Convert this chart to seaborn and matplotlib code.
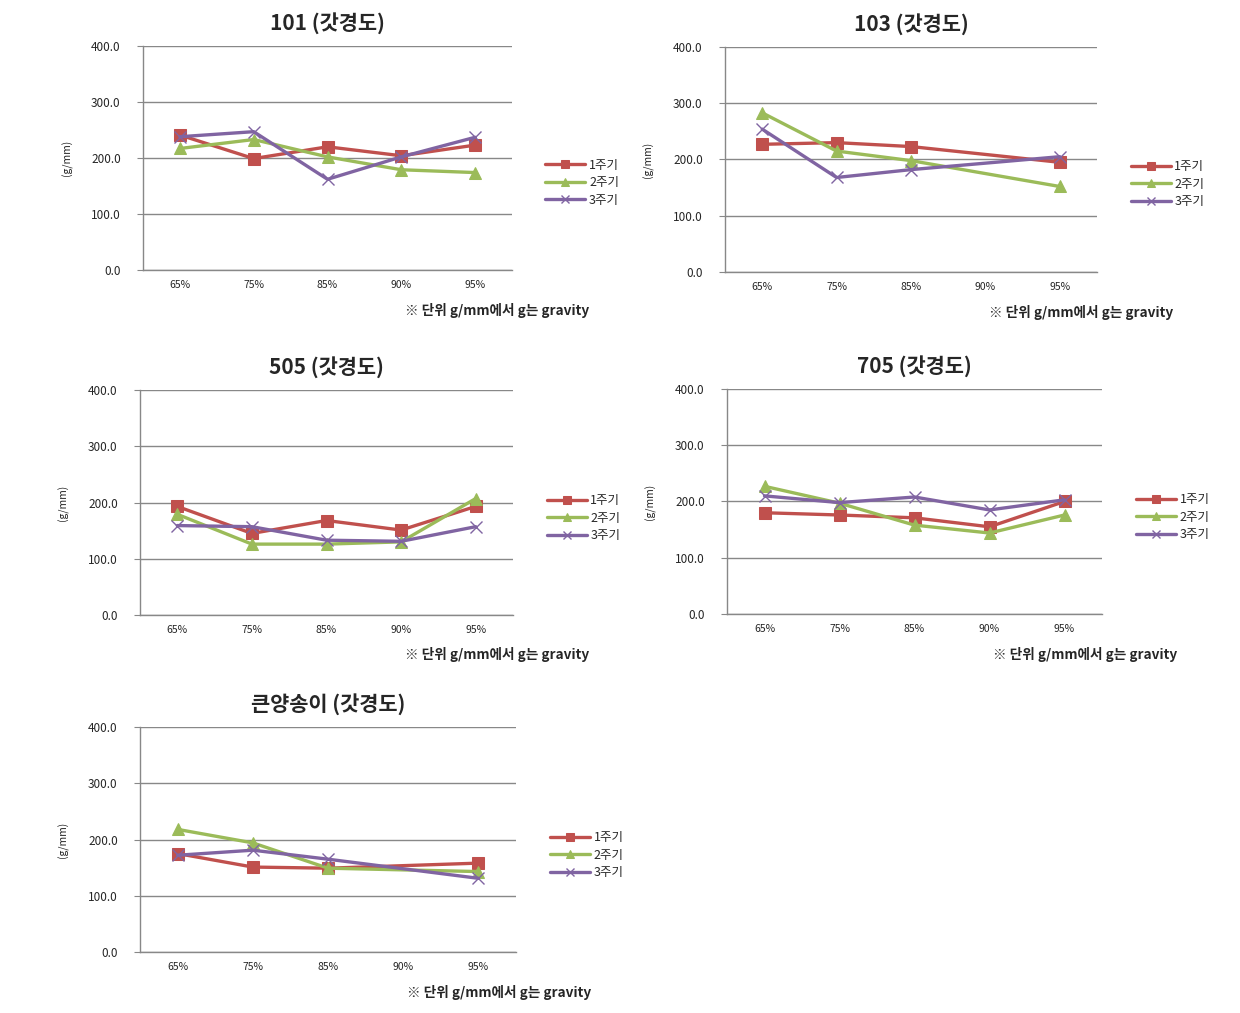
import numpy as np
import pandas as pd
import matplotlib
matplotlib.use("Agg")
import matplotlib.pyplot as plt
import seaborn as sns

# categories (x axis) and series names
cats = ['65%', '75%', '85%', '90%', '95%']
series_names = ['1주기', '2주기', '3주기']

# values (nan = no point at that category)
p101_1 = [241, 199, 220, 204, 223]
p101_2 = [217, 233, 202, 179, 174]
p101_3 = [238, 247, 162, 202, 237]

p103_1 = [227, 230, 223, np.nan, 195]
p103_2 = [283, 215, 198, np.nan, 152]
p103_3 = [254, 168, 182, np.nan, 205]

p505_1 = [193, 145, 168, 151, 193]
p505_2 = [179, 126, 126, 130, 207]
p505_3 = [159, 157, 133, 131, 157]

p705_1 = [180, 176, 171, 155, 200]
p705_2 = [227, 197, 158, 144, 176]
p705_3 = [210, 198, 208, 185, 203]

mush_1 = [175, 151, 149, np.nan, 158]
mush_2 = [218, 194, 149, np.nan, 143]
mush_3 = [172, 181, 165, np.nan, 131]

titles = ['101 (갓경도)', '103 (갓경도)', '505 (갓경도)', '705 (갓경도)', '큰양송이 (갓경도)']
panel_data = [
    (p101_1, p101_2, p101_3),
    (p103_1, p103_2, p103_3),
    (p505_1, p505_2, p505_3),
    (p705_1, p705_2, p705_3),
    (mush_1, mush_2, mush_3),
]
yticks = [0, 100, 200, 300, 400]

colors = {'1주기': '#C0504D', '2주기': '#9BBB59', '3주기': '#8064A2'}
markers = {'1주기': 's', '2주기': '^', '3주기': 'X'}

sns.set_style("white")
plt.rcParams['font.family'] = ['Noto Sans CJK KR', 'DejaVu Sans']

W, H = 1240, 1013
fig = plt.figure(figsize=(W / 100, H / 100), dpi=100)

# plot area boxes in pixels: left, top, right, bottom
boxes = [
    (143, 46, 512, 270),
    (725, 47, 1097, 272),
    (140, 390, 513, 615),
    (727, 389, 1102, 614),
    (140, 727, 516, 952),
]
legend_y = [0.39, 0.39, 0.43, 0.43, 0.43]

for box, title, vals, ly in zip(boxes, titles, panel_data, legend_y):
    l, t, r, b = box
    ax = fig.add_axes([l / W, 1 - b / H, (r - l) / W, (b - t) / H])

    df = pd.DataFrame({
        'x': list(range(len(cats))) * 3,
        'y': vals[0] + vals[1] + vals[2],
        'series': [s for s in series_names for _ in cats],
    }).dropna()

    sns.lineplot(data=df, x='x', y='y', hue='series', style='series',
                 palette=colors, markers=markers, dashes=False,
                 markersize=8, linewidth=2.4, legend=False, ax=ax)
    for line in ax.lines:
        line.set_markeredgecolor(line.get_color())
    ax.lines[2].set_marker('x')
    ax.lines[2].set_markersize(9)
    ax.lines[2].set_markeredgewidth(1.0)

    ax.set_xlim(-0.5, len(cats) - 0.5)
    ax.set_ylim(0, 400)
    ax.set_xticks(range(len(cats)))
    ax.set_xticklabels(cats, fontsize=7.5, fontweight='medium')
    ax.set_yticks(yticks)
    ax.set_yticklabels([f'{v:.1f}' for v in yticks], fontsize=8.5)
    ax.tick_params(axis='x', length=0, pad=7)
    ax.tick_params(axis='y', length=4, width=0.8, color='#888888', pad=12, left=True)
    ax.yaxis.grid(True, color='#888888', linewidth=1)
    ax.set_axisbelow(True)
    for side in ['top', 'right']:
        ax.spines[side].set_visible(False)
    for side in ['left', 'bottom']:
        ax.spines[side].set_color('#888888')
        ax.spines[side].set_linewidth(1)

    ax.set_xlabel('')
    ax.set_ylabel('(g/mm)', fontsize=7.5)
    ax.yaxis.set_label_coords(-0.19, 0.5)
    ax.set_title(title, fontsize=15, fontweight='heavy', pad=12)

    ax.legend(ax.lines, series_names, loc='center left', bbox_to_anchor=(1.06, ly),
              frameon=False, fontsize=9, handlelength=3.2, handletextpad=0.3,
              labelspacing=0.35, numpoints=1, markerscale=0.7)

    fig.text((l + (r - l) * 0.71) / W, 1 - (b + 40) / H, '※ 단위 g/mm에서 g는 gravity',
             fontsize=9.8, fontweight='bold', va='center', ha='left')

fig.savefig('out.png', dpi=100)
